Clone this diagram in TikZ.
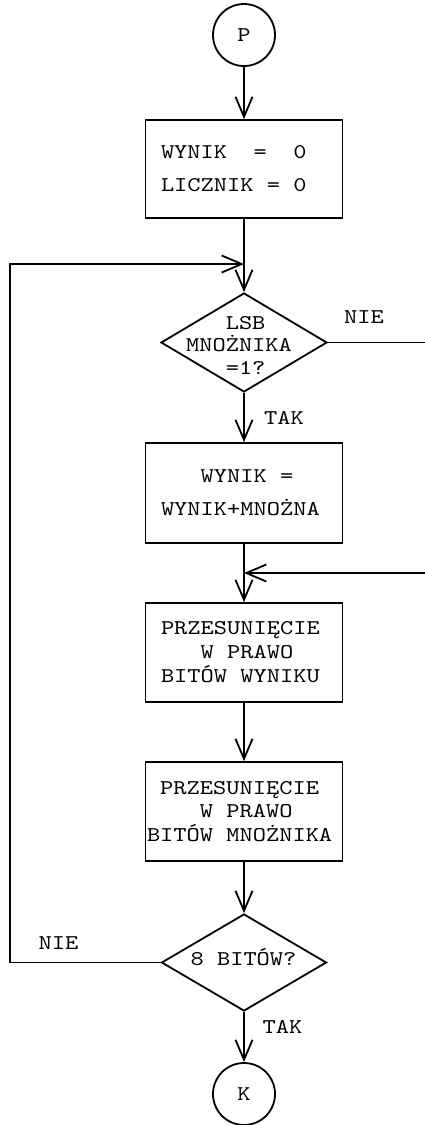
\documentclass[tikz,border=0pt]{standalone}
\usepackage{fontspec}
\setmainfont{lmmono10-regular.otf}[FakeStretch=1.2]
\usetikzlibrary{arrows.meta,shapes.geometric}
\newcommand{\blnk}{\hphantom{X}}
\begin{document}
\begin{tikzpicture}[x=1pt,y=-1pt,line width=1.8pt,
  arr/.style={-{Straight Barb[length=20pt,width=17pt]}},
  circn/.style={draw,circle,minimum size=62pt,inner sep=0pt,font=\fontsize{21}{24}\selectfont},
  boxn/.style={draw,rectangle,minimum width=197pt,inner xsep=15.5pt,text width=166pt,align=left,inner ysep=0pt},
  dian/.style={draw,diamond,inner sep=0pt},
  txt/.style={inner sep=0pt,font=\fontsize{21}{24}\selectfont},
  lbl/.style={anchor=base,inner sep=0pt,font=\fontsize{21}{24}\selectfont}]
\fill[white] (0,0) rectangle (425,1125);
\useasboundingbox (0,0) rectangle (425,1125);

\node[circn] (P) at (244,35) {P};
\node[boxn,minimum height=98pt,font=\fontsize{21}{33}\selectfont] (b1) at (244,169)
  {WYNIK\blnk\blnk=\blnk\blnk0\\LICZNIK\blnk=\blnk0};
\node[dian,minimum width=166pt,minimum height=99pt] (d1) at (244,342.5) {};
\node[txt,align=left,font=\fontsize{21}{22.5}\selectfont] (d1t) at (239,345)
  {\blnk\blnk\blnk LSB\\MNOŻNIKA\\\blnk\blnk\blnk=1?};
\node[boxn,minimum height=100pt,font=\fontsize{21}{33}\selectfont] (b2) at (244,493)
  {\blnk\blnk\blnk WYNIK\blnk=\\WYNIK+MNOŻNA};
\node[boxn,minimum height=99pt,font=\fontsize{21}{24}\selectfont] (b3) at (244,652.5)
  {PRZESUNIĘCIE\\\blnk\blnk\blnk W\blnk PRAWO\\BITÓW\blnk WYNIKU};
\node[boxn,minimum height=99pt,inner xsep=1.5pt,text width=194pt,font=\fontsize{21}{23.5}\selectfont] (b4) at (244,811.5)
  {\blnk PRZESUNIĘCIE\\\blnk\blnk\blnk\blnk W\blnk PRAWO\\BITÓW\blnk MNOŻNIKA};
\node[dian,minimum width=165pt,minimum height=97pt] (d2) at (244,962.5) {};
\node[lbl] (d2t) at (243.5,965.8) {8\blnk BITÓW?};
\node[circn] (K) at (244,1094) {K};

\node[lbl] (nie1) at (364,323) {NIE};
\node[lbl] (tak1) at (284,424.3) {TAK};
\node[lbl] (nie2) at (58.5,949.3) {NIE};
\node[lbl] (tak2) at (282.5,1033.3) {TAK};

\coordinate (j1) at (244,264);
\coordinate (lx) at (10,264);
\coordinate (r1) at (425,342.5);
\coordinate (r2) at (425,573);
\coordinate (j2) at (244,573);

\draw[arr] (P.south) -- (b1.north);
\draw[arr] (b1.south) -- (d1.north);
\draw[arr] (d2.west) -| (lx) -- (j1);
\draw (d1.east) -- (r1);
\draw[arr] (r2) -- (j2);
\draw[arr] (d1.south) -- (b2.north);
\draw[arr] (b2.south) -- (b3.north);
\draw[arr] (b3.south) -- (b4.north);
\draw[arr] (b4.south) -- (d2.north);
\draw[arr] (d2.south) -- (K.north);
\end{tikzpicture}
\end{document}
